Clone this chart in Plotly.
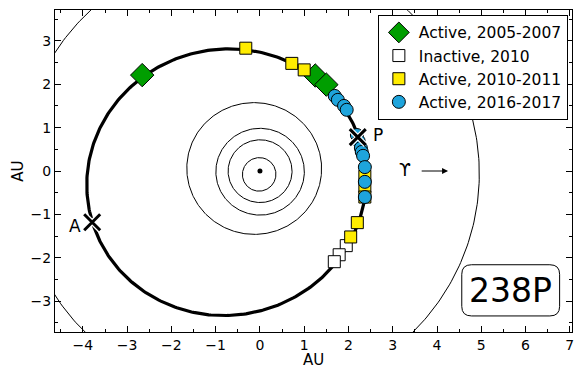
import numpy as np
import plotly.graph_objects as go

# ---- Orbital elements (a [AU], e, longitude of perihelion [deg]) ----
orbit_names = ["Mercury", "Venus", "Earth", "Mars", "Jupiter", "238P"]
orbit_a = [0.387, 0.723, 1.000, 1.524, 5.203, 3.165]
orbit_e = [0.206, 0.007, 0.017, 0.093, 0.049, 0.253]
orbit_peri = [77.5, 131.5, 102.9, 336.0, 14.7, 18.8]

# ---- Observation positions (AU) ----
g_x = [-2.66, 1.25, 1.50]
g_y = [2.21, 2.20, 1.99]

w_x = [1.95, 1.79, 1.68]
w_y = [-1.72, -1.93, -2.09]

y_x = [-0.32, 0.72, 1.00, 2.37, 2.37, 2.37, 2.20, 2.05]
y_y = [2.83, 2.48, 2.33, -0.12, -0.36, -0.60, -1.19, -1.52]

b_x = [1.69, 1.76, 1.90, 1.96, 2.19, 2.23, 2.28, 2.30, 2.33, 2.37, 2.37, 2.37]
b_y = [1.73, 1.64, 1.50, 1.41, 0.83, 0.69, 0.53, 0.44, 0.35, 0.09, -0.25, -0.60]

# perihelion / aphelion markers
pa_x = [2.21, -3.79]
pa_y = [0.78, -1.18]
pa_labels = ["P", "A"]

FONT = "DejaVu Sans"


def ellipse(a, e, peri_deg, n=400):
    E = np.linspace(0, 2 * np.pi, n)
    b = a * np.sqrt(1 - e ** 2)
    xp = a * (np.cos(E) - e)
    yp = b * np.sin(E)
    w = np.radians(peri_deg)
    return xp * np.cos(w) - yp * np.sin(w), xp * np.sin(w) + yp * np.cos(w)


fig = go.Figure()

for name, a, e, w in zip(orbit_names, orbit_a, orbit_e, orbit_peri):
    ox, oy = ellipse(a, e, w)
    fig.add_trace(go.Scatter(x=ox, y=oy, mode="lines", showlegend=False, hoverinfo="skip",
                             line=dict(color="black", width=3.2 if name == "238P" else 1)))

# Sun
fig.add_trace(go.Scatter(x=[0], y=[0], mode="markers", showlegend=False,
                         marker=dict(color="black", size=5)))

edge = dict(color="black", width=1)
fig.add_trace(go.Scatter(x=g_x, y=g_y, mode="markers", name="Active, 2005-2007",
                         marker=dict(symbol="diamond", size=18, color="#009e00", line=edge)))
fig.add_trace(go.Scatter(x=w_x, y=w_y, mode="markers", name="Inactive, 2010",
                         marker=dict(symbol="square", size=12, color="white", line=edge)))
fig.add_trace(go.Scatter(x=y_x, y=y_y, mode="markers", name="Active, 2010-2011",
                         marker=dict(symbol="square", size=12, color="#ffec00", line=edge)))
fig.add_trace(go.Scatter(x=b_x, y=b_y, mode="markers", name="Active, 2016-2017",
                         marker=dict(symbol="circle", size=13, color="#1ea4dc", line=edge)))

# P and A crosses (white halo then black)
fig.add_trace(go.Scatter(x=pa_x, y=pa_y, mode="markers", showlegend=False,
                         marker=dict(symbol="x-thin", size=16, color="white",
                                     line=dict(color="white", width=5.5))))
fig.add_trace(go.Scatter(x=pa_x, y=pa_y, mode="markers", showlegend=False,
                         marker=dict(symbol="x-thin", size=16, color="black",
                                     line=dict(color="black", width=3))))

# labels P and A
fig.add_annotation(x=pa_x[0], y=pa_y[0], text=pa_labels[0], showarrow=False,
                   xanchor="left", xshift=13, yshift=2, font=dict(family=FONT, size=17, color="black"))
fig.add_annotation(x=pa_x[1], y=pa_y[1], text=pa_labels[1], showarrow=False,
                   xanchor="right", xshift=-9, yshift=-4, font=dict(family=FONT, size=17, color="black"))

# vernal equinox direction
fig.add_annotation(x=3.27, y=0.02, text="ϒ", showarrow=False,
                   font=dict(family=FONT, size=17, color="black"))
fig.add_annotation(x=4.25, y=0, ax=3.62, ay=0, axref="x", ayref="y", text="",
                   showarrow=True, arrowhead=2, arrowsize=1.2, arrowwidth=1, arrowcolor="black")

# 238P label box with rounded corners
x0, x1, y0, y1, r = 4.56, 6.77, -3.34, -2.16, 0.22
path = (f"M {x0+r},{y0} L {x1-r},{y0} Q {x1},{y0} {x1},{y0+r} L {x1},{y1-r} "
        f"Q {x1},{y1} {x1-r},{y1} L {x0+r},{y1} Q {x0},{y1} {x0},{y1-r} "
        f"L {x0},{y0+r} Q {x0},{y0} {x0+r},{y0} Z")
fig.add_shape(type="path", path=path, xref="x", yref="y",
              line=dict(color="black", width=1), fillcolor="white", layer="below")
fig.add_annotation(x=(x0 + x1) / 2, y=(y0 + y1) / 2, text="238P", showarrow=False,
                   font=dict(family=FONT, size=33, color="black"))

axis_common = dict(
    showline=True, linecolor="black", linewidth=1, mirror="ticks",
    ticks="inside", ticklen=6, tickwidth=1, tickcolor="black",
    minor=dict(ticks="inside", ticklen=3, dtick=0.5, tickcolor="black"),
    dtick=1, showgrid=False, zeroline=False, automargin=False,
    ticklabeloverflow="allow",
    tickfont=dict(family=FONT, size=14, color="black"),
)

fig.update_xaxes(range=[-4.63, 7.05], tick0=0,
                 title=dict(text="AU", font=dict(family=FONT, size=15, color="black"), standoff=2),
                 **axis_common)
fig.update_yaxes(range=[-3.71, 3.71], tick0=0,
                 title=dict(text="AU", font=dict(family=FONT, size=15, color="black"), standoff=3),
                 **axis_common)

fig.update_layout(
    width=574, height=369,
    margin=dict(l=55, r=2, t=10, b=37, autoexpand=False),
    paper_bgcolor="white", plot_bgcolor="white",
    font=dict(family=FONT, color="black"),
    legend=dict(x=0.992, y=0.985, xanchor="right", yanchor="top",
                bgcolor="white", bordercolor="black", borderwidth=1,
                font=dict(family=FONT, size=15.5, color="black"),
                tracegroupgap=0, itemwidth=30),
)

fig.write_html("out.html", config={"displayModeBar": False},
               post_script="document.body.style.margin='0';")
